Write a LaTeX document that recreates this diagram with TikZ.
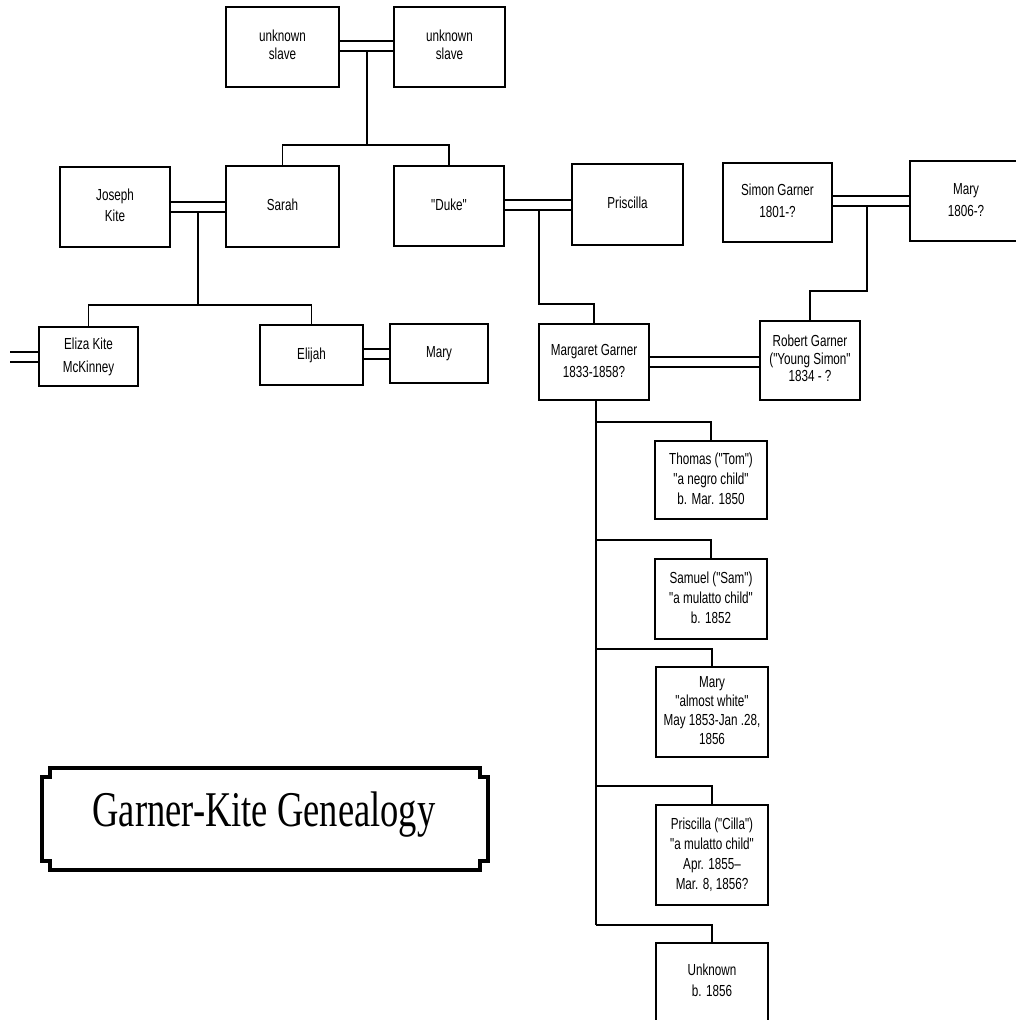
\documentclass[tikz,border=0pt]{standalone}
\usepackage{fontspec}
\setmainfont{Liberation Serif}
\newfontfamily\boxfont{Liberation Sans}
\usetikzlibrary{backgrounds}
\newcommand{\bx}[2][20]{\scalebox{0.73}[1]{\fontsize{16}{#1}\selectfont\begin{tabular}{@{}c@{}}#2\end{tabular}}}
\begin{document}
\begin{tikzpicture}[x=1pt,y=-1pt,
  pbox/.style={draw, line width=2pt, inner sep=0pt, font=\boxfont},
  conn/.style={line width=1.3pt},
  wed/.style={double, double distance=8.5pt, line width=1.6pt},
  frame/.style={line width=3.2pt, line join=miter}]
\useasboundingbox (0,0) rectangle (1016,1020);

% generation 1
\node[pbox, minimum width=113pt, minimum height=80pt] (us1) at (282.5,47) {\bx[18]{unknown\\slave}};
\node[pbox, minimum width=111pt, minimum height=80pt] (us2) at (449.5,47) {\bx[18]{unknown\\slave}};

% generation 2
\node[pbox, minimum width=110pt, minimum height=80pt] (joseph) at (115,207) {\bx[21]{Joseph\\Kite}};
\node[pbox, minimum width=113pt, minimum height=81pt] (sarah) at (282.5,206.5) {\bx{Sarah}};
\node[pbox, minimum width=110pt, minimum height=80pt] (duke) at (449,206) {\bx{"Duke"}};
\node[pbox, minimum width=111pt, minimum height=81pt] (priscilla) at (627.5,204.5) {\bx{Priscilla}};
\node[pbox, minimum width=109pt, minimum height=79pt] (simon) at (777.5,202.5) {\bx[22]{Simon Garner\\1801-?}};
\node[pbox, minimum width=112pt, minimum height=80pt] (mary1) at (966,201) {\bx[22]{Mary\\1806-?}};

% generation 3
\node[pbox, minimum width=99pt, minimum height=59pt] (eliza) at (88.5,356.5) {\bx[23]{Eliza Kite\\McKinney}};
\node[pbox, minimum width=103pt, minimum height=60pt] (elijah) at (311.5,355) {\bx{Elijah}};
\node[pbox, minimum width=98pt, minimum height=59pt] (mary2) at (439,353.5) {\bx{Mary}};
\node[pbox, minimum width=110pt, minimum height=76pt] (margaret) at (594,362) {\bx[22]{Margaret Garner\\1833-1858?}};
\node[pbox, minimum width=100pt, minimum height=79pt] (robert) at (810,360.5) {\bx[17.5]{Robert Garner\\("Young Simon"\\1834 - ?}};

% children of Margaret
\node[pbox, minimum width=112pt, minimum height=78pt] (thomas) at (711,480) {\bx{Thomas ("Tom")\\"a negro child"\\b. Mar. 1850}};
\node[pbox, minimum width=112pt, minimum height=80pt] (samuel) at (711,599) {\bx{Samuel ("Sam")\\"a mulatto child"\\b. 1852}};
\node[pbox, minimum width=112pt, minimum height=90pt] (maryc) at (712,712) {\bx[19]{Mary\\"almost white"\\May 1853-Jan .28,\\1856}};
\node[pbox, minimum width=112pt, minimum height=100pt] (cilla) at (712,855) {\bx{Priscilla ("Cilla")\\"a mulatto child"\\Apr. 1855–\\Mar. 8, 1856?}};
\node[pbox, minimum width=112pt, minimum height=78pt] (unk) at (712,982) {\bx[21]{Unknown\\b. 1856}};

% coordinates
\coordinate (c1) at (367,51);
\coordinate (j1) at (367,145);
\coordinate (c2) at (198,212);
\coordinate (j2) at (198,305);
\coordinate (free) at (10,357);
\coordinate (c3) at (539,210);
\coordinate (j3) at (539,304);
\coordinate (c4) at (867,206);
\coordinate (j4) at (867,291);
\coordinate (b1) at (596,422);
\coordinate (b2) at (596,540);
\coordinate (b3) at (596,649);
\coordinate (b4) at (596,786);
\coordinate (b5) at (596,925);
\coordinate (ms) at (596,400);

\begin{scope}[on background layer]
% marriages
\draw[wed] ([yshift=1pt]us1.east) -- ([yshift=1pt]us1.east -| us2.west);
\draw[wed] (joseph.east) -- (joseph.east -| sarah.west);
\draw[wed] (free) -- (free -| eliza.west);
\draw[wed] ([yshift=1pt]elijah.east) -- ([yshift=1pt]elijah.east -| mary2.west);
\draw[wed] ([yshift=1pt]duke.east) -- ([yshift=1pt]duke.east -| priscilla.west);
\draw[wed] ([yshift=1.5pt]simon.east) -- ([yshift=1.5pt]simon.east -| mary1.west);
\draw[wed] (margaret.east) -- (margaret.east -| robert.west);
% descents
\draw[conn] (c1) -- (j1);
\draw[conn] (j1) -| (sarah.north);
\draw[conn] (j1) -| (duke.north);
\draw[conn] (c2) -- (j2);
\draw[conn] (j2) -| (eliza.north);
\draw[conn] (j2) -| (elijah.north);
\draw[conn] (c3) -- (j3) -| (margaret.north);
\draw[conn] (c4) -- (j4) -| (robert.north);
\draw[conn] (ms) -- (b5);
\draw[conn] (b1) -| (thomas.north);
\draw[conn] (b2) -| (samuel.north);
\draw[conn] (b3) -| (maryc.north);
\draw[conn] (b4) -| (cilla.north);
\draw[conn] (b5) -| (unk.north);
\end{scope}

% title plaque
\draw[frame] (50,768) -- (480,768) -- (480,777) -- (488,777) -- (488,861) -- (480,861) -- (480,870)
  -- (50,870) -- (50,861) -- (42,861) -- (42,777) -- (50,777) -- cycle;
\node[anchor=base, inner sep=0pt, font=\fontsize{50}{60}\selectfont] (title) at (264,826) {\scalebox{0.73}[1]{Garner-Kite Genealogy}};
\end{tikzpicture}
\end{document}
